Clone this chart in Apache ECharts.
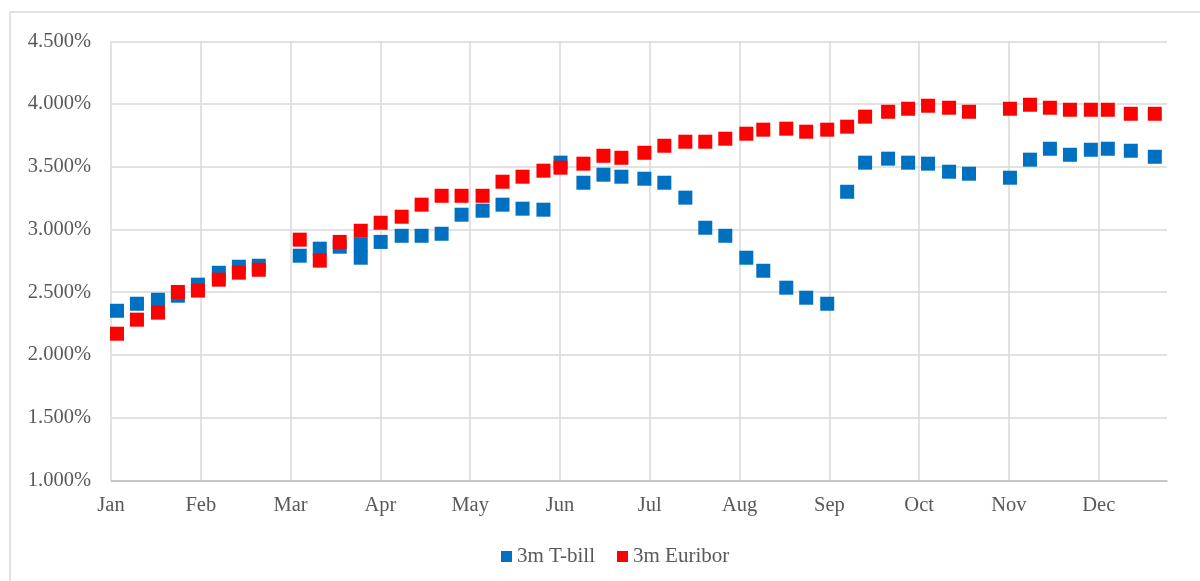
<!DOCTYPE html>
<html>
<head>
<meta charset="utf-8">
<style>
  html, body { margin: 0; padding: 0; background: #ffffff; }
  #chart { width: 1200px; height: 581px; }
</style>
<script src="https://cdn.jsdelivr.net/npm/echarts@6/dist/echarts.min.js"></script>
</head>
<body>
<div id="chart"></div>
<script>
// Month labels for the x axis (one per month, evenly spaced)
const monthLabels = ['Jan', 'Feb', 'Mar', 'Apr', 'May', 'Jun', 'Jul', 'Aug', 'Sep', 'Oct', 'Nov', 'Dec'];

// Position of each weekly observation, in months since 1 January
const weekPos = [
  0.067, 0.289, 0.523, 0.745, 0.968, 1.201, 1.424, 1.646, 2.102, 2.325,
  2.547, 2.781, 2.781, 3.003, 3.237, 3.459, 3.682, 3.904, 4.138, 4.360,
  4.583, 4.816, 5.006, 5.261, 5.484, 5.684, 5.940, 6.162, 6.396, 6.618,
  6.841, 7.075, 7.264, 7.520, 7.742, 7.976, 8.198, 8.398, 8.654, 8.877,
  9.099, 9.333, 9.555, 10.011, 10.234, 10.456, 10.679, 10.912, 11.101, 11.357,
  11.624
];

// 3-month T-bill yield, %
const tbill = [
  2.352, 2.408, 2.440, 2.472, 2.560, 2.655, 2.703, 2.711, 2.791, 2.847,
  2.863, 2.880, 2.775, 2.901, 2.950, 2.950, 2.966, 3.118, 3.150, 3.198,
  3.166, 3.158, 3.533, 3.373, 3.437, 3.421, 3.405, 3.373, 3.254, 3.014,
  2.950, 2.775, 2.671, 2.536, 2.456, 2.408, 3.301, 3.533, 3.565, 3.533,
  3.525, 3.461, 3.445, 3.413, 3.557, 3.644, 3.596, 3.636, 3.644, 3.628,
  3.580
];

// 3-month Euribor, %
const euribor = [
  2.169, 2.281, 2.337, 2.502, 2.513, 2.600, 2.656, 2.679, 2.919, 2.752,
  2.901, 2.990, null, 3.054, 3.102, 3.198, 3.269, 3.269, 3.269, 3.381,
  3.421, 3.469, 3.493, 3.525, 3.588, 3.572, 3.612, 3.668, 3.700, 3.700,
  3.724, 3.764, 3.796, 3.804, 3.780, 3.796, 3.820, 3.900, 3.939, 3.963,
  3.987, 3.971, 3.939, 3.963, 3.995, 3.971, 3.955, 3.955, 3.955, 3.923,
  3.923
];

function toPoints(values) {
  const pts = [];
  for (let i = 0; i < weekPos.length; i++) {
    if (values[i] !== null) pts.push([weekPos[i], values[i]]);
  }
  return pts;
}

const FONT = "'Liberation Serif', 'Times New Roman', serif";
const TEXT = '#595959';
const GRID = '#d9d9d9';

const chart = echarts.init(document.getElementById('chart'), null, { renderer: 'canvas' });

chart.setOption({
  animation: false,
  backgroundColor: '#ffffff',
  graphic: [{
    type: 'rect',
    silent: true,
    shape: { x: 10, y: 12, width: 1210, height: 600 },
    style: { fill: 'none', stroke: GRID, lineWidth: 1.5 }
  }],
  grid: { left: 111, right: 33, top: 41.4, bottom: 100.7, containLabel: false },
  legend: {
    left: 496,
    top: 541,
    icon: 'rect',
    itemWidth: 11,
    itemHeight: 11,
    itemGap: 22,
    textStyle: { fontFamily: FONT, fontSize: 21, color: TEXT },
    data: ['3m T-bill', '3m Euribor']
  },
  xAxis: {
    type: 'value',
    min: 0,
    max: 11.76,
    interval: 1,
    axisLine: { show: true, lineStyle: { color: '#bfbfbf', width: 1.5 } },
    axisTick: { show: false },
    splitLine: { show: true, showMaxLine: false, lineStyle: { color: GRID, width: 1.5 } },
    axisLabel: {
      margin: 15,
      showMaxLabel: false,
      fontFamily: FONT,
      fontSize: 20.5,
      color: TEXT,
      formatter: function (v) {
        return Number.isInteger(v) ? monthLabels[v] : '';
      }
    }
  },
  yAxis: {
    type: 'value',
    min: 1,
    max: 4.5,
    interval: 0.5,
    axisLine: { show: false },
    axisTick: { show: false },
    splitLine: { show: true, lineStyle: { color: GRID, width: 1.5 } },
    axisLabel: {
      margin: 20,
      fontFamily: FONT,
      fontSize: 20.5,
      color: TEXT,
      formatter: function (v) { return v.toFixed(3) + '%'; }
    }
  },
  series: [
    {
      name: '3m T-bill',
      type: 'scatter',
      symbol: 'rect',
      symbolSize: 14,
      itemStyle: { color: '#0070C0', opacity: 1 },
      emphasis: { disabled: true },
      data: toPoints(tbill)
    },
    {
      name: '3m Euribor',
      type: 'scatter',
      symbol: 'rect',
      symbolSize: 14,
      itemStyle: { color: '#FF0000', opacity: 1 },
      emphasis: { disabled: true },
      data: toPoints(euribor)
    }
  ]
});
</script>
</body>
</html>
